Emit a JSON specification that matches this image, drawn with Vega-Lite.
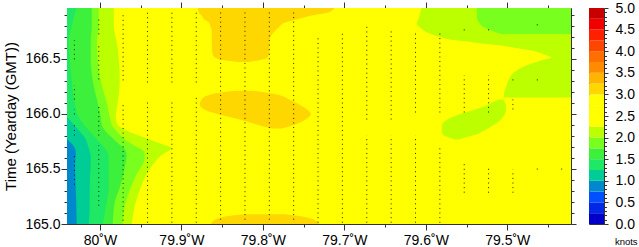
{
  "$schema": "https://vega.github.io/schema/vega-lite/v6.json",
  "padding": {"left": 3, "top": 0, "right": 0, "bottom": 0},
  "spacing": 18,
  "bounds": "flush",
  "config": {
    "font": "Liberation Sans",
    "view": {"stroke": "#333", "strokeWidth": 1},
    "axis": {
      "labelFont": "Liberation Sans", "titleFont": "Liberation Sans",
      "labelColor": "#000", "titleColor": "#000", "tickColor": "#333",
      "domain": false, "grid": false, "labelFontSize": 14, "titleFontSize": 15,
      "titleFontWeight": "normal", "labelFlush": false, "labelOverlap": false
    }
  },
  "datasets": {
    "base": [{"w1": 80.05, "w2": 79.41, "t1": 164.99, "t2": 166.97, "v": 2.6}],
    "regions": [
      {"id": "yg_left", "v": 2.1, "t": 166.97, "wa": 80.05, "wb": 79.9831},
      {"id": "yg_left", "v": 2.1, "t": 166.8, "wa": 80.05, "wb": 79.9831},
      {"id": "yg_left", "v": 2.1, "t": 166.65, "wa": 80.05, "wb": 79.9794},
      {"id": "yg_left", "v": 2.1, "t": 166.5, "wa": 80.05, "wb": 79.977},
      {"id": "yg_left", "v": 2.1, "t": 166.3, "wa": 80.05, "wb": 79.9758},
      {"id": "yg_left", "v": 2.1, "t": 166.1, "wa": 80.05, "wb": 79.9782},
      {"id": "yg_left", "v": 2.1, "t": 165.97, "wa": 80.05, "wb": 79.9807},
      {"id": "yg_left", "v": 2.1, "t": 165.9, "wa": 80.05, "wb": 79.9782},
      {"id": "yg_left", "v": 2.1, "t": 165.83, "wa": 80.05, "wb": 79.9622},
      {"id": "yg_left", "v": 2.1, "t": 165.77, "wa": 80.05, "wb": 79.9401},
      {"id": "yg_left", "v": 2.1, "t": 165.72, "wa": 80.05, "wb": 79.9217},
      {"id": "yg_left", "v": 2.1, "t": 165.69, "wa": 80.05, "wb": 79.9119},
      {"id": "yg_left", "v": 2.1, "t": 165.66, "wa": 80.05, "wb": 79.9168},
      {"id": "yg_left", "v": 2.1, "t": 165.62, "wa": 80.05, "wb": 79.9254},
      {"id": "yg_left", "v": 2.1, "t": 165.56, "wa": 80.05, "wb": 79.9328},
      {"id": "yg_left", "v": 2.1, "t": 165.47, "wa": 80.05, "wb": 79.9414},
      {"id": "yg_left", "v": 2.1, "t": 165.33, "wa": 80.05, "wb": 79.95},
      {"id": "yg_left", "v": 2.1, "t": 165.2, "wa": 80.05, "wb": 79.9561},
      {"id": "yg_left", "v": 2.1, "t": 164.99, "wa": 80.05, "wb": 79.961},

      {"id": "yg_B", "v": 2.1, "t": 166.97, "wa": 79.6047, "wb": 79.41},
      {"id": "yg_B", "v": 2.1, "t": 166.875, "wa": 79.6084, "wb": 79.41},
      {"id": "yg_B", "v": 2.1, "t": 166.812, "wa": 79.6109, "wb": 79.41},
      {"id": "yg_B", "v": 2.1, "t": 166.785, "wa": 79.6072, "wb": 79.41},
      {"id": "yg_B", "v": 2.1, "t": 166.739, "wa": 79.5986, "wb": 79.41},
      {"id": "yg_B", "v": 2.1, "t": 166.694, "wa": 79.5814, "wb": 79.41},
      {"id": "yg_B", "v": 2.1, "t": 166.676, "wa": 79.5716, "wb": 79.41},
      {"id": "yg_B", "v": 2.1, "t": 166.648, "wa": 79.5409, "wb": 79.41},
      {"id": "yg_B", "v": 2.1, "t": 166.621, "wa": 79.5101, "wb": 79.41},
      {"id": "yg_B", "v": 2.1, "t": 166.585, "wa": 79.4794, "wb": 79.41},
      {"id": "yg_B", "v": 2.1, "t": 166.557, "wa": 79.461, "wb": 79.41},
      {"id": "yg_B", "v": 2.1, "t": 166.53, "wa": 79.4512, "wb": 79.41},
      {"id": "yg_B", "v": 2.1, "t": 166.512, "wa": 79.4451, "wb": 79.41},
      {"id": "yg_B", "v": 2.1, "t": 166.485, "wa": 79.4573, "wb": 79.41},
      {"id": "yg_B", "v": 2.1, "t": 166.421, "wa": 79.4819, "wb": 79.41},
      {"id": "yg_B", "v": 2.1, "t": 166.375, "wa": 79.4917, "wb": 79.41},
      {"id": "yg_B", "v": 2.1, "t": 166.312, "wa": 79.4979, "wb": 79.41},
      {"id": "yg_B", "v": 2.1, "t": 166.239, "wa": 79.5016, "wb": 79.41},
      {"id": "yg_B", "v": 2.1, "t": 166.175, "wa": 79.504, "wb": 79.41},
      {"id": "yg_B", "v": 2.1, "t": 166.148, "wa": 79.504, "wb": 79.41},

      {"id": "yg_C", "v": 2.1, "t": 166.13, "wa": 79.5102, "wb": 79.5052},
      {"id": "yg_C", "v": 2.1, "t": 166.103, "wa": 79.5188, "wb": 79.5028},
      {"id": "yg_C", "v": 2.1, "t": 166.075, "wa": 79.5249, "wb": 79.5016},
      {"id": "yg_C", "v": 2.1, "t": 166.03, "wa": 79.5433, "wb": 79.5016},
      {"id": "yg_C", "v": 2.1, "t": 165.985, "wa": 79.563, "wb": 79.504},
      {"id": "yg_C", "v": 2.1, "t": 165.939, "wa": 79.5753, "wb": 79.5089},
      {"id": "yg_C", "v": 2.1, "t": 165.894, "wa": 79.5802, "wb": 79.5175},
      {"id": "yg_C", "v": 2.1, "t": 165.848, "wa": 79.5802, "wb": 79.5286},
      {"id": "yg_C", "v": 2.1, "t": 165.812, "wa": 79.5789, "wb": 79.5384},
      {"id": "yg_C", "v": 2.1, "t": 165.785, "wa": 79.5716, "wb": 79.5519},
      {"id": "yg_C", "v": 2.1, "t": 165.766, "wa": 79.5642, "wb": 79.5593},

      {"id": "gold_top", "v": 3.1, "t": 166.97, "wa": 79.8799, "wb": 79.7116},
      {"id": "gold_top", "v": 3.1, "t": 166.921, "wa": 79.8787, "wb": 79.719},
      {"id": "gold_top", "v": 3.1, "t": 166.891, "wa": 79.875, "wb": 79.7399},
      {"id": "gold_top", "v": 3.1, "t": 166.86, "wa": 79.8726, "wb": 79.7559},
      {"id": "gold_top", "v": 3.1, "t": 166.83, "wa": 79.8664, "wb": 79.7718},
      {"id": "gold_top", "v": 3.1, "t": 166.785, "wa": 79.864, "wb": 79.7804},
      {"id": "gold_top", "v": 3.1, "t": 166.739, "wa": 79.8627, "wb": 79.7866},
      {"id": "gold_top", "v": 3.1, "t": 166.676, "wa": 79.8627, "wb": 79.7915},
      {"id": "gold_top", "v": 3.1, "t": 166.557, "wa": 79.8621, "wb": 79.7921},
      {"id": "gold_top", "v": 3.1, "t": 166.512, "wa": 79.859, "wb": 79.7939},
      {"id": "gold_top", "v": 3.1, "t": 166.485, "wa": 79.848, "wb": 79.805},
      {"id": "gold_top", "v": 3.1, "t": 166.471, "wa": 79.8296, "wb": 79.8173},

      {"id": "gold_mid", "v": 3.1, "t": 166.209, "wa": 79.8345, "wb": 79.8124},
      {"id": "gold_mid", "v": 3.1, "t": 166.178, "wa": 79.8627, "wb": 79.7841},
      {"id": "gold_mid", "v": 3.1, "t": 166.133, "wa": 79.875, "wb": 79.7681},
      {"id": "gold_mid", "v": 3.1, "t": 166.087, "wa": 79.8775, "wb": 79.7559},
      {"id": "gold_mid", "v": 3.1, "t": 166.042, "wa": 79.8726, "wb": 79.746},
      {"id": "gold_mid", "v": 3.1, "t": 165.996, "wa": 79.8541, "wb": 79.7411},
      {"id": "gold_mid", "v": 3.1, "t": 165.951, "wa": 79.8296, "wb": 79.7473},
      {"id": "gold_mid", "v": 3.1, "t": 165.906, "wa": 79.8087, "wb": 79.7595},
      {"id": "gold_mid", "v": 3.1, "t": 165.866, "wa": 79.789, "wb": 79.7767},

      {"id": "gold_bot", "v": 3.1, "t": 165.089, "wa": 79.8234, "wb": 79.7743},
      {"id": "gold_bot", "v": 3.1, "t": 165.071, "wa": 79.8443, "wb": 79.7534},
      {"id": "gold_bot", "v": 3.1, "t": 165.048, "wa": 79.8566, "wb": 79.7399},
      {"id": "gold_bot", "v": 3.1, "t": 165.025, "wa": 79.8615, "wb": 79.7337},
      {"id": "gold_bot", "v": 3.1, "t": 164.99, "wa": 79.864, "wb": 79.73},

      {"id": "lg_left", "v": 1.9, "t": 166.97, "wa": 80.05, "wb": 80.0016},
      {"id": "lg_left", "v": 1.9, "t": 166.8, "wa": 80.05, "wb": 80.0016},
      {"id": "lg_left", "v": 1.9, "t": 166.65, "wa": 80.05, "wb": 80.004},
      {"id": "lg_left", "v": 1.9, "t": 166.5, "wa": 80.05, "wb": 80.0028},
      {"id": "lg_left", "v": 1.9, "t": 166.3, "wa": 80.05, "wb": 79.9991},
      {"id": "lg_left", "v": 1.9, "t": 166.1, "wa": 80.05, "wb": 79.9917},
      {"id": "lg_left", "v": 1.9, "t": 165.97, "wa": 80.05, "wb": 79.988},
      {"id": "lg_left", "v": 1.9, "t": 165.9, "wa": 80.05, "wb": 79.9856},
      {"id": "lg_left", "v": 1.9, "t": 165.83, "wa": 80.05, "wb": 79.9782},
      {"id": "lg_left", "v": 1.9, "t": 165.77, "wa": 80.05, "wb": 79.9696},
      {"id": "lg_left", "v": 1.9, "t": 165.72, "wa": 80.05, "wb": 79.9598},
      {"id": "lg_left", "v": 1.9, "t": 165.69, "wa": 80.05, "wb": 79.9524},
      {"id": "lg_left", "v": 1.9, "t": 165.66, "wa": 80.05, "wb": 79.9463},
      {"id": "lg_left", "v": 1.9, "t": 165.62, "wa": 80.05, "wb": 79.945},
      {"id": "lg_left", "v": 1.9, "t": 165.56, "wa": 80.05, "wb": 79.9463},
      {"id": "lg_left", "v": 1.9, "t": 165.47, "wa": 80.05, "wb": 79.9536},
      {"id": "lg_left", "v": 1.9, "t": 165.33, "wa": 80.05, "wb": 79.9622},
      {"id": "lg_left", "v": 1.9, "t": 165.2, "wa": 80.05, "wb": 79.9684},
      {"id": "lg_left", "v": 1.9, "t": 164.99, "wa": 80.05, "wb": 79.9721},

      {"id": "lg_A", "v": 1.9, "t": 166.97, "wa": 79.5372, "wb": 79.41},
      {"id": "lg_A", "v": 1.9, "t": 166.875, "wa": 79.5372, "wb": 79.41},
      {"id": "lg_A", "v": 1.9, "t": 166.83, "wa": 79.5347, "wb": 79.41},
      {"id": "lg_A", "v": 1.9, "t": 166.785, "wa": 79.5286, "wb": 79.41},
      {"id": "lg_A", "v": 1.9, "t": 166.754, "wa": 79.5188, "wb": 79.41},
      {"id": "lg_A", "v": 1.9, "t": 166.724, "wa": 79.5065, "wb": 79.41},

      {"id": "g_left", "v": 1.6, "t": 166.97, "wa": 80.05, "wb": 80.0101},
      {"id": "g_left", "v": 1.6, "t": 166.8, "wa": 80.05, "wb": 80.0101},
      {"id": "g_left", "v": 1.6, "t": 166.65, "wa": 80.05, "wb": 80.0114},
      {"id": "g_left", "v": 1.6, "t": 166.5, "wa": 80.05, "wb": 80.0114},
      {"id": "g_left", "v": 1.6, "t": 166.3, "wa": 80.05, "wb": 80.0089},
      {"id": "g_left", "v": 1.6, "t": 166.1, "wa": 80.05, "wb": 80.0028},
      {"id": "g_left", "v": 1.6, "t": 165.97, "wa": 80.05, "wb": 79.9991},
      {"id": "g_left", "v": 1.6, "t": 165.9, "wa": 80.05, "wb": 79.9979},
      {"id": "g_left", "v": 1.6, "t": 165.83, "wa": 80.05, "wb": 79.9917},
      {"id": "g_left", "v": 1.6, "t": 165.77, "wa": 80.05, "wb": 79.9831},
      {"id": "g_left", "v": 1.6, "t": 165.72, "wa": 80.05, "wb": 79.9758},
      {"id": "g_left", "v": 1.6, "t": 165.69, "wa": 80.05, "wb": 79.9708},
      {"id": "g_left", "v": 1.6, "t": 165.66, "wa": 80.05, "wb": 79.9684},
      {"id": "g_left", "v": 1.6, "t": 165.62, "wa": 80.05, "wb": 79.9672},
      {"id": "g_left", "v": 1.6, "t": 165.56, "wa": 80.05, "wb": 79.9684},
      {"id": "g_left", "v": 1.6, "t": 165.47, "wa": 80.05, "wb": 79.9708},
      {"id": "g_left", "v": 1.6, "t": 165.33, "wa": 80.05, "wb": 79.9758},
      {"id": "g_left", "v": 1.6, "t": 165.2, "wa": 80.05, "wb": 79.9819},
      {"id": "g_left", "v": 1.6, "t": 164.99, "wa": 80.05, "wb": 79.9844},

      {"id": "bg_left", "v": 1.4, "t": 166.97, "wa": 80.05, "wb": 80.0286},
      {"id": "bg_left", "v": 1.4, "t": 166.8, "wa": 80.05, "wb": 80.0347},
      {"id": "bg_left", "v": 1.4, "t": 166.65, "wa": 80.05, "wb": 80.0384},
      {"id": "bg_left", "v": 1.4, "t": 166.5, "wa": 80.05, "wb": 80.0372},
      {"id": "bg_left", "v": 1.4, "t": 166.3, "wa": 80.05, "wb": 80.0347},
      {"id": "bg_left", "v": 1.4, "t": 166.1, "wa": 80.05, "wb": 80.031},
      {"id": "bg_left", "v": 1.4, "t": 165.97, "wa": 80.05, "wb": 80.0261},
      {"id": "bg_left", "v": 1.4, "t": 165.9, "wa": 80.05, "wb": 80.02},
      {"id": "bg_left", "v": 1.4, "t": 165.83, "wa": 80.05, "wb": 80.0114},
      {"id": "bg_left", "v": 1.4, "t": 165.77, "wa": 80.05, "wb": 80.004},
      {"id": "bg_left", "v": 1.4, "t": 165.72, "wa": 80.05, "wb": 79.9979},
      {"id": "bg_left", "v": 1.4, "t": 165.69, "wa": 80.05, "wb": 79.9942},
      {"id": "bg_left", "v": 1.4, "t": 165.66, "wa": 80.05, "wb": 79.9917},
      {"id": "bg_left", "v": 1.4, "t": 165.62, "wa": 80.05, "wb": 79.9893},
      {"id": "bg_left", "v": 1.4, "t": 165.56, "wa": 80.05, "wb": 79.9893},
      {"id": "bg_left", "v": 1.4, "t": 165.47, "wa": 80.05, "wb": 79.9893},
      {"id": "bg_left", "v": 1.4, "t": 165.33, "wa": 80.05, "wb": 79.9893},
      {"id": "bg_left", "v": 1.4, "t": 165.2, "wa": 80.05, "wb": 79.9917},
      {"id": "bg_left", "v": 1.4, "t": 164.99, "wa": 80.05, "wb": 79.9966},

      {"id": "teal", "v": 1.1, "t": 165.97, "wa": 80.05, "wb": 80.0405},
      {"id": "teal", "v": 1.1, "t": 165.9, "wa": 80.05, "wb": 80.0323},
      {"id": "teal", "v": 1.1, "t": 165.83, "wa": 80.05, "wb": 80.0237},
      {"id": "teal", "v": 1.1, "t": 165.77, "wa": 80.05, "wb": 80.0175},
      {"id": "teal", "v": 1.1, "t": 165.72, "wa": 80.05, "wb": 80.0151},
      {"id": "teal", "v": 1.1, "t": 165.69, "wa": 80.05, "wb": 80.0138},
      {"id": "teal", "v": 1.1, "t": 165.66, "wa": 80.05, "wb": 80.0126},
      {"id": "teal", "v": 1.1, "t": 165.62, "wa": 80.05, "wb": 80.0114},
      {"id": "teal", "v": 1.1, "t": 165.56, "wa": 80.05, "wb": 80.0114},
      {"id": "teal", "v": 1.1, "t": 165.47, "wa": 80.05, "wb": 80.012},
      {"id": "teal", "v": 1.1, "t": 165.33, "wa": 80.05, "wb": 80.0126},
      {"id": "teal", "v": 1.1, "t": 165.2, "wa": 80.05, "wb": 80.0126},
      {"id": "teal", "v": 1.1, "t": 164.99, "wa": 80.05, "wb": 80.0138},

      {"id": "blue", "v": 0.9, "t": 165.77, "wa": 80.05, "wb": 80.0405},
      {"id": "blue", "v": 0.9, "t": 165.72, "wa": 80.05, "wb": 80.0335},
      {"id": "blue", "v": 0.9, "t": 165.69, "wa": 80.05, "wb": 80.031},
      {"id": "blue", "v": 0.9, "t": 165.66, "wa": 80.05, "wb": 80.0298},
      {"id": "blue", "v": 0.9, "t": 165.62, "wa": 80.05, "wb": 80.0298},
      {"id": "blue", "v": 0.9, "t": 165.56, "wa": 80.05, "wb": 80.0304},
      {"id": "blue", "v": 0.9, "t": 165.47, "wa": 80.05, "wb": 80.0304},
      {"id": "blue", "v": 0.9, "t": 165.33, "wa": 80.05, "wb": 80.0298},
      {"id": "blue", "v": 0.9, "t": 165.2, "wa": 80.05, "wb": 80.0292},
      {"id": "blue", "v": 0.9, "t": 164.99, "wa": 80.05, "wb": 80.0286}
    ],
    "dots": [
      {"w": 80.0314, "tb": 165.357, "tt": 165.63},
      {"w": 80.0314, "tb": 165.803, "tt": 165.903},
      {"w": 80.0314, "tb": 165.994, "tt": 166.039},
      {"w": 80.0314, "tb": 166.13, "tt": 166.257},
      {"w": 80.0314, "tb": 166.494, "tt": 166.666},
      {"w": 80.0015, "tb": 166.721, "tt": 166.857},
      {"w": 80.0015, "tb": 166.312, "tt": 166.621},
      {"w": 80.0015, "tb": 165.803, "tt": 166.084},
      {"w": 80.0015, "tb": 165.166, "tt": 165.712},
      {"w": 79.9716, "tb": 166.303, "tt": 166.894},
      {"w": 79.9716, "tb": 165.03, "tt": 166.084},
      {"w": 79.9417, "tb": 166.284, "tt": 166.921},
      {"w": 79.9417, "tb": 165.012, "tt": 166.102},
      {"w": 79.9117, "tb": 166.284, "tt": 166.921},
      {"w": 79.9117, "tb": 165.012, "tt": 166.102},
      {"w": 79.8818, "tb": 166.284, "tt": 166.921},
      {"w": 79.8818, "tb": 165.012, "tt": 166.148},
      {"w": 79.8519, "tb": 165.039, "tt": 166.921},
      {"w": 79.822, "tb": 165.039, "tt": 166.921},
      {"w": 79.7921, "tb": 165.039, "tt": 166.921},
      {"w": 79.7622, "tb": 165.039, "tt": 166.921},
      {"w": 79.7323, "tb": 165.012, "tt": 166.712},
      {"w": 79.7024, "tb": 165.012, "tt": 166.757},
      {"w": 79.6724, "tb": 165.948, "tt": 166.803},
      {"w": 79.6724, "tb": 165.012, "tt": 165.803},
      {"w": 79.6425, "tb": 165.948, "tt": 166.757},
      {"w": 79.6425, "tb": 165.012, "tt": 165.803},
      {"w": 79.6126, "tb": 166.012, "tt": 166.757},
      {"w": 79.6126, "tb": 165.012, "tt": 165.803},
      {"w": 79.5827, "tb": 166.012, "tt": 166.757},
      {"w": 79.5827, "tb": 165.012, "tt": 165.712},
      {"w": 79.5528, "tb": 166.757, "tt": 166.767},
      {"w": 79.5528, "tb": 166.012, "tt": 166.348},
      {"w": 79.5528, "tb": 165.284, "tt": 165.557},
      {"w": 79.5229, "tb": 166.757, "tt": 166.767},
      {"w": 79.5229, "tb": 166.012, "tt": 166.348},
      {"w": 79.5229, "tb": 165.284, "tt": 165.53},
      {"w": 79.493, "tb": 166.303, "tt": 166.313},
      {"w": 79.493, "tb": 166.039, "tt": 166.13},
      {"w": 79.493, "tb": 165.284, "tt": 165.494},
      {"w": 79.4631, "tb": 166.803, "tt": 166.813},
      {"w": 79.4631, "tb": 166.303, "tt": 166.313},
      {"w": 79.4631, "tb": 165.494, "tt": 165.504},
      {"w": 79.4331, "tb": 165.494, "tt": 165.504}
    ],
    "bar": [
      {"lo": 0, "hi": 0.25, "v": 0.125}, {"lo": 0.25, "hi": 0.5, "v": 0.375},
      {"lo": 0.5, "hi": 0.75, "v": 0.625}, {"lo": 0.75, "hi": 1.0, "v": 0.875},
      {"lo": 1.0, "hi": 1.25, "v": 1.125}, {"lo": 1.25, "hi": 1.5, "v": 1.375},
      {"lo": 1.5, "hi": 1.75, "v": 1.625}, {"lo": 1.75, "hi": 2.0, "v": 1.875},
      {"lo": 2.0, "hi": 2.25, "v": 2.125}, {"lo": 2.25, "hi": 2.5, "v": 2.375},
      {"lo": 2.5, "hi": 2.75, "v": 2.625}, {"lo": 2.75, "hi": 3.0, "v": 2.875},
      {"lo": 3.0, "hi": 3.25, "v": 3.125}, {"lo": 3.25, "hi": 3.5, "v": 3.375},
      {"lo": 3.5, "hi": 3.75, "v": 3.625}, {"lo": 3.75, "hi": 4.0, "v": 3.875},
      {"lo": 4.0, "hi": 4.25, "v": 4.125}, {"lo": 4.25, "hi": 4.5, "v": 4.375},
      {"lo": 4.5, "hi": 4.75, "v": 4.625}, {"lo": 4.75, "hi": 5.0, "v": 4.875}
    ]
  },
  "hconcat": [
    {
      "width": 504,
      "height": 216,
      "layer": [
        {
          "data": {"name": "base"},
          "mark": {"type": "rect", "clip": true},
          "encoding": {
            "x": {"field": "w1", "type": "quantitative",
              "scale": {"domain": [79.4217, 80.0405], "reverse": true, "nice": false, "zero": false},
              "axis": {"orient": "bottom", "title": null,
                "values": [80.0, 79.95, 79.9, 79.85, 79.8, 79.75, 79.7, 79.65, 79.6, 79.55, 79.5, 79.45],
                "labelExpr": "abs(datum.value*10 - round(datum.value*10)) < 0.001 ? format(datum.value, '.1~f') + '˚W' : ''",
                "tickSize": {"condition": {"test": "abs(datum.value*10 - round(datum.value*10)) < 0.001", "value": 6}, "value": 3},
                "labelPadding": 3}},
            "x2": {"field": "w2"},
            "y": {"field": "t1", "type": "quantitative",
              "scale": {"domain": [165, 166.96], "nice": false, "zero": false},
              "axis": {"orient": "left", "title": "Time (Yearday (GMT))",
                "values": [165.0, 165.1, 165.2, 165.3, 165.4, 165.5, 165.6, 165.7, 165.8, 165.9, 166.0, 166.1, 166.2, 166.3, 166.4, 166.5, 166.6, 166.7, 166.8, 166.9],
                "labelExpr": "abs(datum.value*2 - round(datum.value*2)) < 0.001 ? format(datum.value, '.1f') : ''",
                "tickSize": {"condition": {"test": "abs(datum.value*2 - round(datum.value*2)) < 0.001", "value": 6}, "value": 3},
                "labelPadding": 1, "titlePadding": 6}},
            "y2": {"field": "t2"},
            "color": {"field": "v", "type": "quantitative", "legend": null,
              "scale": {"type": "threshold",
                "domain": [0.25, 0.5, 0.75, 1, 1.25, 1.5, 1.75, 2, 2.25, 2.5, 2.75, 3, 3.25, 3.5, 3.75, 4, 4.25, 4.5, 4.75],
                "range": ["#0000c8", "#0028e6", "#0050ff", "#0088cc", "#00cc96", "#1ee864", "#3cf03c", "#78ff1e", "#bbff00", "#ffff00", "#ffff00", "#ffff00", "#ffd700", "#ffb400", "#ff8c00", "#ff6e00", "#ff4600", "#ff2000", "#f00000", "#c80000"]}}
          }
        },
        {
          "data": {"name": "regions"},
          "mark": {"type": "area", "orient": "horizontal", "interpolate": "monotone", "clip": true},
          "encoding": {
            "y": {"field": "t", "type": "quantitative",
              "scale": {"domain": [165, 166.96], "nice": false, "zero": false},
              "axis": {"orient": "right", "title": null, "labels": false,
                "values": [165.0, 165.1, 165.2, 165.3, 165.4, 165.5, 165.6, 165.7, 165.8, 165.9, 166.0, 166.1, 166.2, 166.3, 166.4, 166.5, 166.6, 166.7, 166.8, 166.9],
                "tickSize": {"condition": {"test": "abs(datum.value*2 - round(datum.value*2)) < 0.001", "value": 5}, "value": 3}}},
            "x": {"field": "wa", "type": "quantitative", "stack": null,
              "scale": {"domain": [79.4217, 80.0405], "reverse": true, "nice": false, "zero": false},
              "axis": {"orient": "top", "title": null, "labels": false,
                "values": [80.0, 79.95, 79.9, 79.85, 79.8, 79.75, 79.7, 79.65, 79.6, 79.55, 79.5, 79.45],
                "tickSize": {"condition": {"test": "abs(datum.value*10 - round(datum.value*10)) < 0.001", "value": 6}, "value": 3}}},
            "x2": {"field": "wb"},
            "detail": {"field": "id"},
            "color": {"field": "v", "type": "quantitative", "legend": null,
              "scale": {"type": "threshold",
                "domain": [0.25, 0.5, 0.75, 1, 1.25, 1.5, 1.75, 2, 2.25, 2.5, 2.75, 3, 3.25, 3.5, 3.75, 4, 4.25, 4.5, 4.75],
                "range": ["#0000c8", "#0028e6", "#0050ff", "#0088cc", "#00cc96", "#1ee864", "#3cf03c", "#78ff1e", "#bbff00", "#ffff00", "#ffff00", "#ffff00", "#ffd700", "#ffb400", "#ff8c00", "#ff6e00", "#ff4600", "#ff2000", "#f00000", "#c80000"]}}
          }
        },
        {
          "data": {"name": "dots"},
          "mark": {"type": "rule", "color": "#000", "strokeWidth": 1, "strokeDash": [1, 3.583], "clip": true, "opacity": 0.85},
          "encoding": {
            "x": {"field": "w", "type": "quantitative", "axis": null,
              "scale": {"domain": [79.4217, 80.0405], "reverse": true, "nice": false, "zero": false}},
            "y": {"field": "tb", "type": "quantitative", "axis": null,
              "scale": {"domain": [165, 166.96], "nice": false, "zero": false}},
            "y2": {"field": "tt"}
          }
        }
      ],
      "resolve": {"axis": {"x": "independent", "y": "independent"}}
    },
    {
      "width": 15,
      "height": 216,
      "data": {"name": "bar"},
      "mark": {"type": "rect"},
      "encoding": {
        "y": {"field": "lo", "type": "quantitative",
          "scale": {"domain": [0, 5], "nice": false, "zero": false},
          "axis": {"orient": "right",
            "values": [0, 0.1, 0.2, 0.3, 0.4, 0.5, 0.6, 0.7, 0.8, 0.9, 1.0, 1.1, 1.2, 1.3, 1.4, 1.5, 1.6, 1.7, 1.8, 1.9, 2.0, 2.1, 2.2, 2.3, 2.4, 2.5, 2.6, 2.7, 2.8, 2.9, 3.0, 3.1, 3.2, 3.3, 3.4, 3.5, 3.6, 3.7, 3.8, 3.9, 4.0, 4.1, 4.2, 4.3, 4.4, 4.5, 4.6, 4.7, 4.8, 4.9, 5.0],
            "labelExpr": "abs(datum.value*2 - round(datum.value*2)) < 0.001 ? format(datum.value, '.1f') : ''",
            "tickSize": {"condition": {"test": "abs(datum.value*2 - round(datum.value*2)) < 0.001", "value": 4}, "value": 2.5},
            "labelPadding": 7,
            "title": "knots", "titleAngle": 0, "titleFontSize": 9.5, "titleAlign": "left", "titleBaseline": "alphabetic",
            "titleX": 10.4, "titleY": 236}},
        "y2": {"field": "hi"},
        "color": {"field": "v", "type": "quantitative", "legend": null,
          "scale": {"type": "threshold",
            "domain": [0.25, 0.5, 0.75, 1, 1.25, 1.5, 1.75, 2, 2.25, 2.5, 2.75, 3, 3.25, 3.5, 3.75, 4, 4.25, 4.5, 4.75],
            "range": ["#0000c8", "#0028e6", "#0050ff", "#0088cc", "#00cc96", "#1ee864", "#3cf03c", "#78ff1e", "#bbff00", "#ffff00", "#ffff00", "#ffff00", "#ffd700", "#ffb400", "#ff8c00", "#ff6e00", "#ff4600", "#ff2000", "#f00000", "#c80000"]}}
      }
    }
  ]
}
